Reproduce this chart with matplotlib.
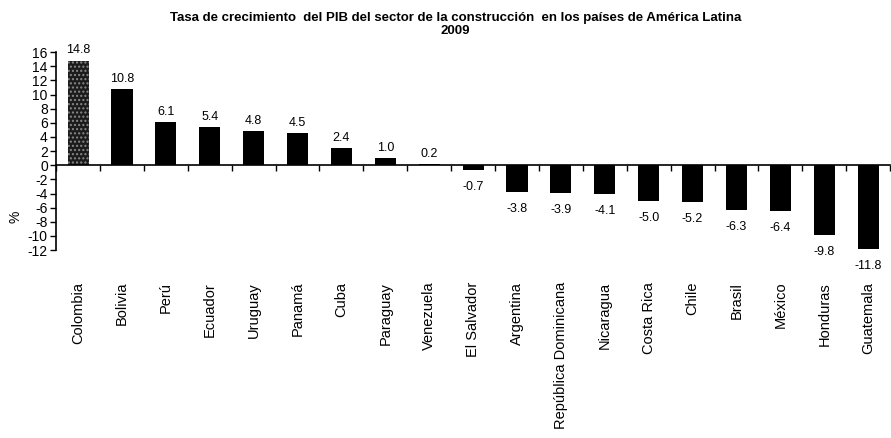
import numpy as np
import matplotlib
matplotlib.use("Agg")
import matplotlib.pyplot as plt
import matplotlib.transforms as mtransforms

plt.rcParams['font.family'] = ['Liberation Sans', 'DejaVu Sans']

# data
paises = ['Colombia', 'Bolivia', 'Perú', 'Ecuador', 'Uruguay', 'Panamá', 'Cuba',
          'Paraguay', 'Venezuela', 'El Salvador', 'Argentina', 'República Dominicana',
          'Nicaragua', 'Costa Rica', 'Chile', 'Brasil', 'México', 'Honduras', 'Guatemala']
tasas = [14.8, 10.8, 6.1, 5.4, 4.8, 4.5, 2.4, 1.0, 0.2, -0.7, -3.8, -3.9, -4.1,
         -5.0, -5.2, -6.3, -6.4, -9.8, -11.8]
yticks = list(range(-12, 17, 2))

fig = plt.figure(figsize=(8.91, 4.38), dpi=100)
ax = fig.add_axes([0.063, 0.429, 0.936, 0.452])

x = np.arange(len(paises))
bars = ax.bar(x, tasas, width=0.48, color='black', linewidth=0)
# first bar is stippled
bars[0].set_facecolor('#1c1c1c')
bars[0].set_edgecolor('#8a8a8a')
bars[0].set_hatch('....')

ax.set_xlim(-0.5, len(paises) - 0.5)
ax.set_ylim(-12, 16)
ax.set_yticks(yticks)
ax.set_yticklabels([str(v) for v in yticks], fontsize=10)
ax.tick_params(axis='y', direction='out', length=4, width=1, pad=2)

# horizontal axis through zero
for s in ['top', 'right']:
    ax.spines[s].set_visible(False)
ax.spines['bottom'].set_position(('data', 0))
ax.spines['left'].set_linewidth(1.2)
ax.spines['bottom'].set_linewidth(1.2)
ax.set_xticks(np.arange(len(paises) + 1) - 0.5)
ax.set_xticklabels([])
ax.tick_params(axis='x', direction='out', length=4, width=1)

# value labels
for xi, v in zip(x, tasas):
    if v >= 0:
        ax.annotate(f'{v:.1f}', (xi, v), xytext=(0, 3), textcoords='offset points',
                    ha='center', va='bottom', fontsize=9)
    else:
        ax.annotate(f'{v:.1f}', (xi, v), xytext=(0, -8), textcoords='offset points',
                    ha='center', va='top', fontsize=9)

# category labels below the plot
trans = mtransforms.blended_transform_factory(ax.transData, ax.transAxes)
for xi, name in zip(x, paises):
    ax.text(xi, -0.16, name, transform=trans, rotation=90, ha='center', va='top',
            fontsize=10.5)

ax.set_ylabel('%', fontsize=10)
ax.yaxis.set_label_coords(-0.04, 0.17)

fig.text(0.511, 0.958, 'Tasa de crecimiento  del PIB del sector de la construcción  en los países de América Latina',
         ha='center', va='center', fontsize=9.5, fontweight='bold')
fig.text(0.511, 0.93, '2009', ha='center', va='center', fontsize=9.5, fontweight='bold')

fig.savefig('out.png', dpi=100)
